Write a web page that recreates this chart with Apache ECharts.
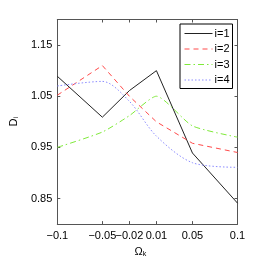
<!DOCTYPE html>
<html><head><meta charset="utf-8">
<script src="https://cdn.jsdelivr.net/npm/echarts@6/dist/echarts.min.js"></script>
<style>html,body{margin:0;padding:0;background:#fff}#c{width:263px;height:263px}</style>
</head><body><div id="c"></div>
<script>
const omegaK = [-0.1, -0.05, -0.02, 0.01, 0.05, 0.1];
const d1 = [1.089, 1.009, 1.061, 1.100, 0.939, 0.841];
const d2 = [1.052, 1.110, 1.050, 1.000, 0.958, 0.940];
const d3 = [0.950, 0.980, 1.012, 1.050, 0.992, 0.970];
const d4 = [1.070, 1.079, 1.040, 0.972, 0.920, 0.911];
const xTicks = [-0.1, -0.05, -0.02, 0.01, 0.05, 0.1];
const yTicks = [0.85, 0.95, 1.05, 1.15];
const names = ['i=1', 'i=2', 'i=3', 'i=4'];

const FONT = 'Liberation Sans';
const fmt = v => (v < 0 ? '\u2212' : '') + Math.abs(v).toString();
const pairs = arr => omegaK.map((x, i) => [x, arr[i]]);

const styles = [
  {color: '#222', type: 'solid', smooth: false},
  {color: '#ff4a4a', type: [5, 4], smooth: false},
  {color: '#7fea3a', type: [6, 3, 1.5, 3], smooth: 0.2},
  {color: '#8c8cff', type: [1.5, 2], smooth: 0.3}
];
const series = [d1, d2, d3, d4].map((d, i) => ({
  name: names[i], type: 'line', data: pairs(d), symbol: 'none',
  smooth: styles[i].smooth,
  lineStyle: {color: styles[i].color, width: 1, type: styles[i].type},
  itemStyle: {color: styles[i].color},
  xAxisIndex: 0, yAxisIndex: 0
}));

const chart = echarts.init(document.getElementById('c'), null, {renderer: 'canvas'});
const lineC = '#555';
const richSub = {a: {fontFamily: FONT, fontSize: 11, color: '#000'}, b: {fontFamily: FONT, fontSize: 7, color: '#000', verticalAlign: 'bottom', padding: [6, 0, 0, 0]}};
chart.setOption({
  animation: false,
  backgroundColor: '#fff',
  grid: {left: 45.5, right: 25.5, top: 19.5, bottom: 30.5, containLabel: false},
  legend: {
    orient: 'vertical', right: 30.5, top: 24,
    data: names, itemWidth: 28, itemHeight: 8, itemGap: 4.5,
    borderColor: '#000', borderWidth: 1, padding: [4, 3, 3, 4],
    backgroundColor: '#fff',
    itemStyle: {opacity: 0},
    lineStyle: {width: 1},
    textStyle: {fontFamily: FONT, fontSize: 11, color: '#000', padding: [0, 0, 0, -3]}
  },
  xAxis: [{
    type: 'value', min: -0.1, max: 0.1, position: 'bottom',
    name: '{a|\u03a9}{b|k}', nameLocation: 'middle', nameGap: 17,
    nameTextStyle: {rich: richSub, padding: [0, 14, 0, 0]},
    axisLine: {show: true, onZero: false, lineStyle: {color: lineC, width: 1}},
    axisTick: {show: true, inside: true, length: 3, customValues: xTicks, lineStyle: {color: lineC}},
    axisLabel: {customValues: xTicks, formatter: fmt, fontFamily: FONT, fontSize: 11, color: '#000', margin: 6},
    splitLine: {show: false}
  }, {
    type: 'value', min: -0.1, max: 0.1, position: 'top',
    axisLine: {show: true, onZero: false, lineStyle: {color: lineC, width: 1}},
    axisTick: {show: true, inside: true, length: 3, customValues: xTicks, lineStyle: {color: lineC}},
    axisLabel: {show: false}, splitLine: {show: false}
  }],
  yAxis: [{
    type: 'value', min: 0.8, max: 1.2, position: 'left',
    name: '{a|D}{b|i}', nameLocation: 'middle', nameGap: 36, nameRotate: 90,
    nameTextStyle: {rich: richSub},
    axisLine: {show: true, onZero: false, lineStyle: {color: lineC, width: 1}},
    axisTick: {show: true, inside: true, length: 3, customValues: yTicks, lineStyle: {color: lineC}},
    axisLabel: {customValues: yTicks, formatter: v => v.toFixed(2), fontFamily: FONT, fontSize: 11, color: '#000', margin: 5},
    splitLine: {show: false}
  }, {
    type: 'value', min: 0.8, max: 1.2, position: 'right',
    axisLine: {show: true, onZero: false, lineStyle: {color: lineC, width: 1}},
    axisTick: {show: true, inside: true, length: 3, customValues: yTicks, lineStyle: {color: lineC}},
    axisLabel: {show: false}, splitLine: {show: false}
  }],
  series: series
});
</script></body></html>
